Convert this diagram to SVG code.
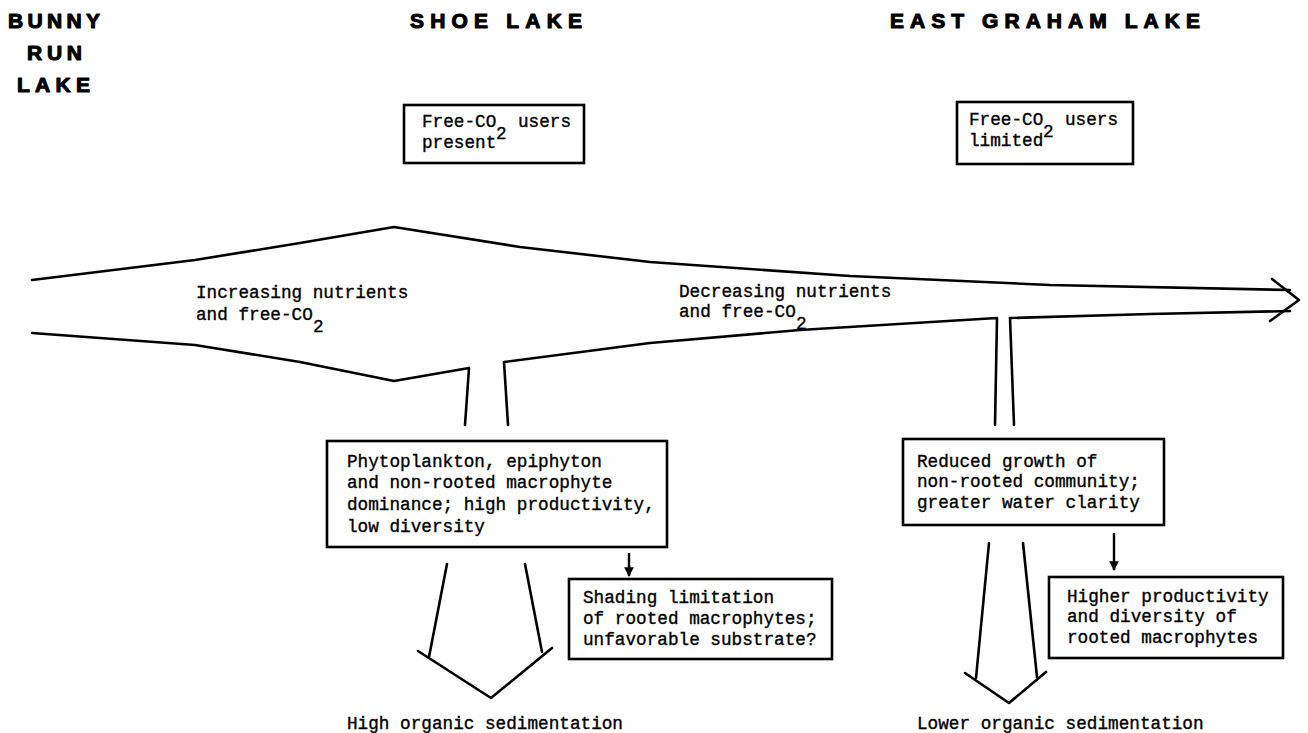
<svg xmlns="http://www.w3.org/2000/svg" width="1308" height="733" viewBox="0 0 1308 733">
  <style>
    .hd { font-family: "Liberation Sans", Arial, sans-serif; font-weight: bold; font-size: 21px; fill: #000; stroke: #000; stroke-width: 1.1px; stroke-linejoin: round; }
    .tx { font-family: "Liberation Mono", "DejaVu Sans Mono", monospace; font-size: 17.7px; fill: #000; stroke: #000; stroke-width: 0.35px; }
    .box { fill: #fff; stroke: #000; stroke-width: 2.6; }
    .ln { fill: none; stroke: #000; stroke-width: 2.6; stroke-linejoin: round; stroke-linecap: round; }
    .sm { fill: none; stroke: #000; stroke-width: 2.4; }
  </style>
  <defs>
    <marker id="ah" viewBox="0 0 10 10" refX="9" refY="5" markerWidth="4" markerHeight="5" markerUnits="strokeWidth" orient="auto">
      <path d="M0,0 L10,5 L0,10 Z" fill="#000"/>
    </marker>
  </defs>
  <rect width="1308" height="733" fill="#fff"/>

  <g id="hdr-bunny">
    <text class="hd" x="8" y="28" textLength="92" lengthAdjust="spacing">BUNNY</text>
    <text class="hd" x="27" y="60" textLength="55" lengthAdjust="spacing">RUN</text>
    <text class="hd" x="17" y="92" textLength="73" lengthAdjust="spacing">LAKE</text>
  </g>
  <g id="hdr-shoe">
    <text class="hd" x="410" y="28" textLength="172" lengthAdjust="spacing">SHOE LAKE</text>
  </g>
  <g id="hdr-eastgraham">
    <text class="hd" x="890" y="28" textLength="310" lengthAdjust="spacing">EAST GRAHAM LAKE</text>
  </g>

  <g id="connectors">
    <!-- main flow arrow -->
    <polyline class="ln" points="32,280 195,260 300,243 394,227 520,247 650,262 850,276 1050,285 1290,290"/>
    <polyline class="ln" points="32,333 195,345 300,362 394,381 469,368 465,425"/>
    <polyline class="ln" points="508,425 504,362 650,343 800,330 997,318 995,425"/>
    <polyline class="ln" points="1014,425 1010,318 1150,314 1290,311"/>
    <polyline class="ln" points="1272,279 1299,300 1270,321" stroke-width="3.2"/>
    <!-- lower left wide arrow -->
    <line class="ln" x1="447" y1="564" x2="429" y2="657"/>
    <line class="ln" x1="525" y1="564" x2="542" y2="652"/>
    <polyline class="ln" points="418,651 491,698 552,648"/>
    <!-- lower right wide arrow -->
    <line class="ln" x1="989" y1="543" x2="976" y2="678"/>
    <line class="ln" x1="1023" y1="543" x2="1037" y2="677"/>
    <polyline class="ln" points="965,673 1009,703 1046,672"/>
    <!-- small arrows -->
    <line class="sm" x1="629" y1="553" x2="629" y2="576" marker-end="url(#ah)"/>
    <line class="sm" x1="1114" y1="533" x2="1114" y2="570" marker-end="url(#ah)"/>
  </g>

  <g id="lbl-increasing">
    <text class="tx" x="196" y="298">Increasing nutrients</text>
    <text class="tx" x="196" y="320">and free-CO</text>
    <text class="tx" x="313" y="332">2</text>
  </g>
  <g id="lbl-decreasing">
    <text class="tx" x="679" y="297">Decreasing nutrients</text>
    <text class="tx" x="679" y="317">and free-CO</text>
    <text class="tx" x="796" y="329">2</text>
  </g>

  <g id="node-shoe-co2">
    <rect class="box" x="404" y="105" width="180" height="58"/>
    <text class="tx" x="422" y="127">Free-CO</text>
    <text class="tx" x="518" y="127">users</text>
    <text class="tx" x="496" y="139">2</text>
    <text class="tx" x="422" y="148">present</text>
  </g>
  <g id="node-eg-co2">
    <rect class="box" x="957" y="102" width="176" height="62"/>
    <text class="tx" x="969" y="125">Free-CO</text>
    <text class="tx" x="1065" y="125">users</text>
    <text class="tx" x="1043" y="137">2</text>
    <text class="tx" x="969" y="146">limited</text>
  </g>

  <g id="node-phyto">
    <rect class="box" x="327" y="441" width="340" height="106"/>
    <text class="tx" x="347" y="467">Phytoplankton, epiphyton</text>
    <text class="tx" x="347" y="488">and non-rooted macrophyte</text>
    <text class="tx" x="347" y="510">dominance; high productivity,</text>
    <text class="tx" x="347" y="532">low diversity</text>
  </g>
  <g id="node-shading">
    <rect class="box" x="569" y="579" width="263" height="80"/>
    <text class="tx" x="583" y="603">Shading limitation</text>
    <text class="tx" x="583" y="624">of rooted macrophytes;</text>
    <text class="tx" x="583" y="645">unfavorable substrate?</text>
  </g>
  <g id="node-reduced">
    <rect class="box" x="903" y="439" width="261" height="86"/>
    <text class="tx" x="917" y="467">Reduced growth of</text>
    <text class="tx" x="917" y="487">non-rooted community;</text>
    <text class="tx" x="917" y="508">greater water clarity</text>
  </g>
  <g id="node-higher">
    <rect class="box" x="1049" y="577" width="234" height="81"/>
    <text class="tx" x="1067" y="602">Higher productivity</text>
    <text class="tx" x="1067" y="622">and diversity of</text>
    <text class="tx" x="1067" y="643">rooted macrophytes</text>
  </g>

  <g id="lbl-high-sed">
    <text class="tx" x="347" y="729">High organic sedimentation</text>
  </g>
  <g id="lbl-lower-sed">
    <text class="tx" x="917" y="729">Lower organic sedimentation</text>
  </g>
</svg>
